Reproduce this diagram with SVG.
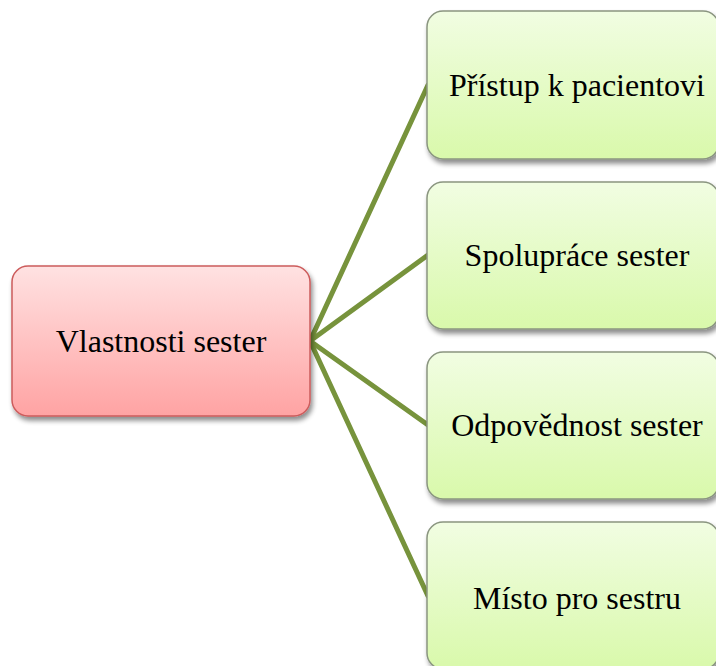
<svg xmlns="http://www.w3.org/2000/svg" width="716" height="666" viewBox="0 0 716 666">
  <defs>
    <linearGradient id="gradRed" x1="0" y1="0" x2="0" y2="1">
      <stop offset="0" stop-color="#ffe2e2"/>
      <stop offset="1" stop-color="#ffa3a3"/>
    </linearGradient>
    <linearGradient id="gradGreen" x1="0" y1="0" x2="0" y2="1">
      <stop offset="0" stop-color="#f1fde2"/>
      <stop offset="1" stop-color="#d9f9ab"/>
    </linearGradient>
    <filter id="shadow" x="-10%" y="-10%" width="130%" height="130%">
      <feGaussianBlur in="SourceAlpha" stdDeviation="2.5"/>
      <feOffset dx="2" dy="4" result="blur"/>
      <feComponentTransfer><feFuncA type="linear" slope="0.45"/></feComponentTransfer>
      <feMerge><feMergeNode/><feMergeNode in="SourceGraphic"/></feMerge>
    </filter>
  </defs>
  <style>
    .label { font-family: "Liberation Serif", "Times New Roman", serif; font-size: 32px; fill: #000; text-anchor: middle; }
    .leaf rect { fill: url(#gradGreen); stroke: #8a9580; stroke-width: 1.5; filter: url(#shadow); }
    .root rect { fill: url(#gradRed); stroke: #cc5c5c; stroke-width: 1.5; filter: url(#shadow); }
    .edge { stroke: #77933c; stroke-width: 5; stroke-linecap: round; fill: none; }
  </style>
  <rect width="716" height="666" fill="#ffffff"/>

  <g id="connectors">
    <line class="edge" x1="310" y1="341" x2="428" y2="85"/>
    <line class="edge" x1="310" y1="341" x2="428" y2="255"/>
    <line class="edge" x1="310" y1="341" x2="428" y2="425"/>
    <line class="edge" x1="310" y1="341" x2="428" y2="596"/>
  </g>

  <g id="root" class="root">
    <rect x="12" y="266" width="298" height="150" rx="16" ry="16"/>
    <text class="label" x="161" y="352">Vlastnosti sester</text>
  </g>

  <g id="leaf1" class="leaf">
    <rect x="427" y="11" width="292" height="148" rx="16" ry="16"/>
    <text class="label" x="577" y="96">Přístup k pacientovi</text>
  </g>
  <g id="leaf2" class="leaf">
    <rect x="427" y="182" width="292" height="147" rx="16" ry="16"/>
    <text class="label" x="577" y="266">Spolupráce sester</text>
  </g>
  <g id="leaf3" class="leaf">
    <rect x="427" y="352" width="292" height="147" rx="16" ry="16"/>
    <text class="label" x="577" y="436">Odpovědnost sester</text>
  </g>
  <g id="leaf4" class="leaf">
    <rect x="427" y="522" width="292" height="147" rx="16" ry="16"/>
    <text class="label" x="577" y="609">Místo pro sestru</text>
  </g>
</svg>
